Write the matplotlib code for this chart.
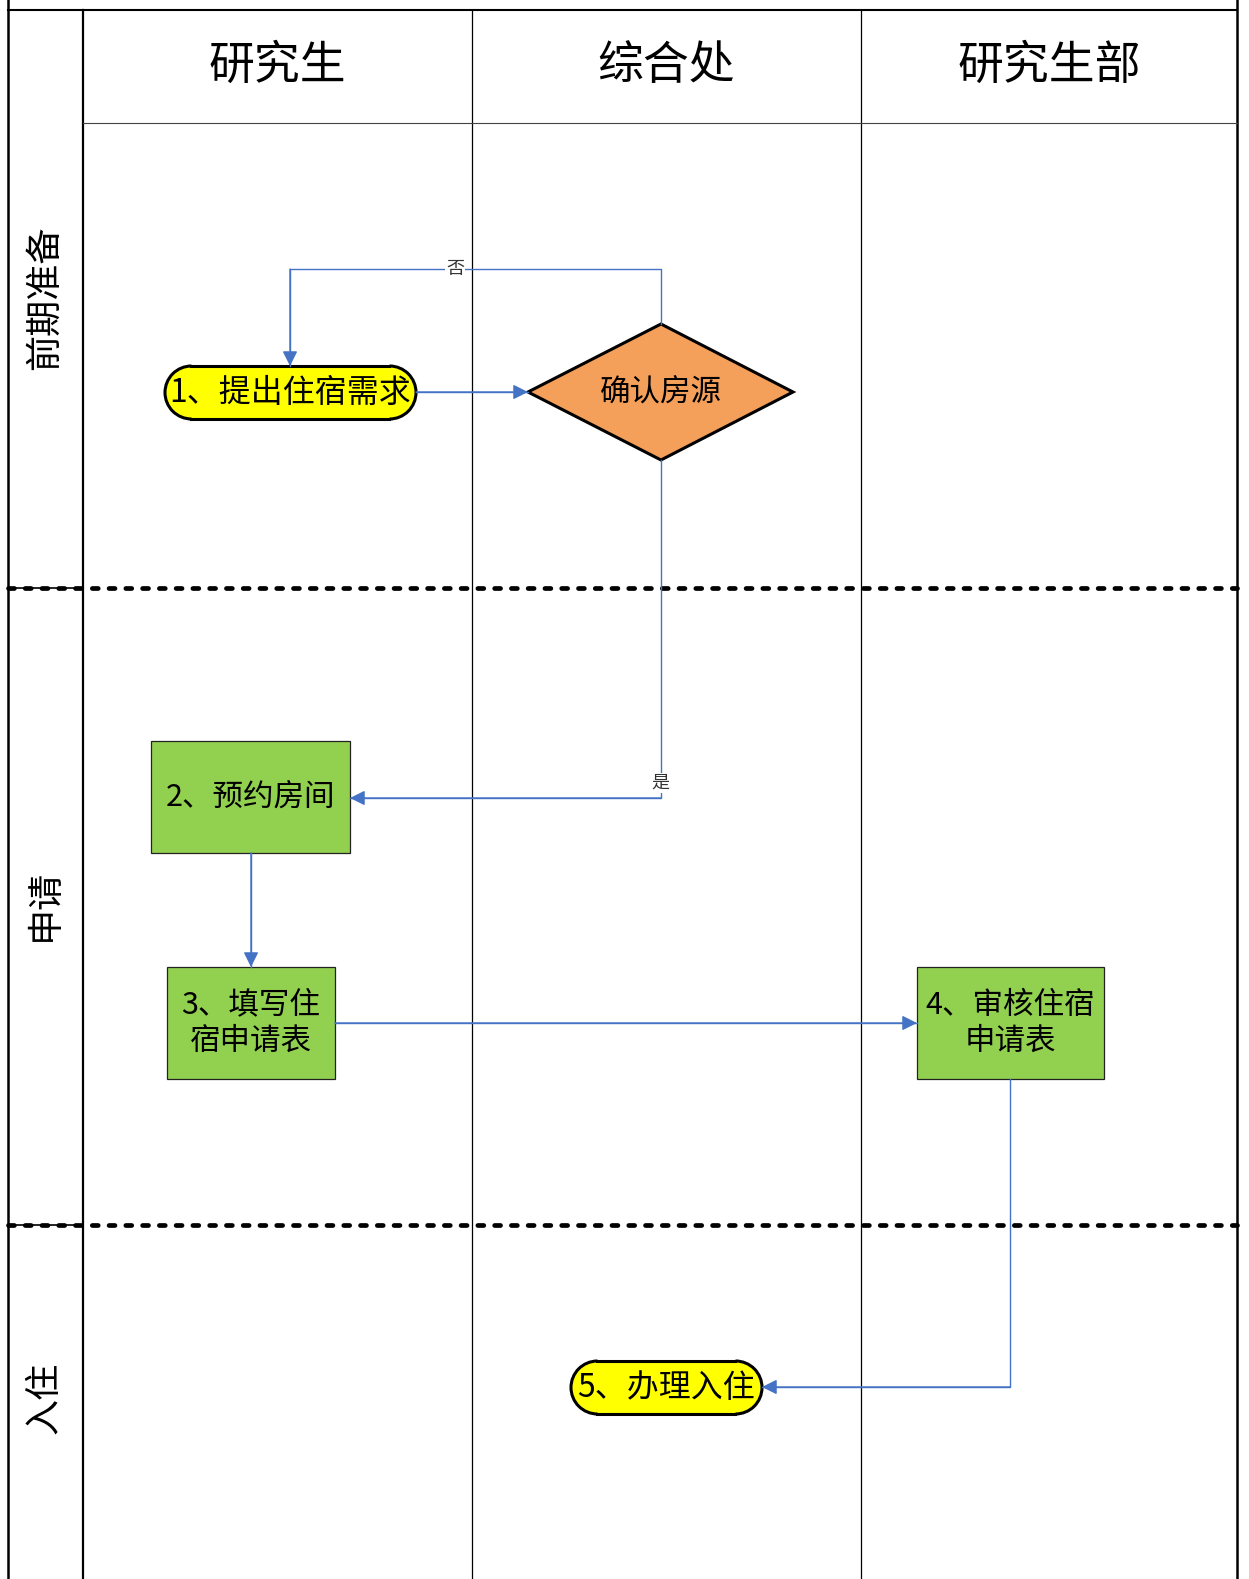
import matplotlib
matplotlib.use("Agg")
import matplotlib.pyplot as plt
from matplotlib.patches import Polygon, Rectangle, Ellipse, Arc

plt.rcParams['font.family'] = ['Noto Sans CJK SC', 'DejaVu Sans']

# swimlane content
lanes = ["研究生", "综合处", "研究生部"]
phases = ["前期准备", "申请", "入住"]
node_text = {
    "n1": "1、提出住宿需求",
    "d": "确认房源",
    "n2": "2、预约房间",
    "n3": "3、填写住\n宿申请表",
    "n4": "4、审核住宿\n申请表",
    "n5": "5、办理入住",
}
edge_labels = {"no": "否", "yes": "是"}

# layout (pixel coords, y down)
W, H = 1249, 1579
col_x = [83, 472, 861, 1237]
left_x = 8
top_y = 10
head_y = 123
phase_y = [head_y, 588, 1225, H]

blue = "#4472C4"
yellow = "#FFFF00"
orange = "#F4A05A"
green = "#92D050"

fig = plt.figure(figsize=(W / 100, H / 100), dpi=100)
ax = fig.add_axes([0, 0, 1, 1])
ax.set_xlim(0, W)
ax.set_ylim(H, 0)
ax.axis("off")

# grid lines
ax.plot([left_x, left_x], [0, H], color="black", lw=1.8)
ax.plot([col_x[-1], col_x[-1]], [0, H], color="black", lw=1.8)
ax.plot([left_x, col_x[-1]], [top_y, top_y], color="black", lw=1.5)
ax.plot([col_x[0], col_x[0]], [top_y, H], color="black", lw=1.6)
for x in col_x[1:-1]:
    ax.plot([x, x], [top_y, H], color="black", lw=0.9)
ax.plot([col_x[0], col_x[-1]], [head_y, head_y], color="#444444", lw=0.8)
for y in phase_y[1:3]:
    ax.plot([left_x, col_x[0]], [y, y], color="black", lw=1.2)
    ax.plot([left_x, col_x[-1]], [y, y], color="black", lw=3.4,
            ls=(0, (1.25, 2.3)), dash_capstyle="round")

# headers
for i, name in enumerate(lanes):
    cx = (col_x[i] + col_x[i + 1]) / 2
    ax.text(cx, 66, name, ha="center", va="center", fontsize=33)

phase_cy = [298, 905, 1398]
for name, cy in zip(phases, phase_cy):
    ax.text(45, cy, name, ha="center", va="center", fontsize=26, rotation=90)


def terminator(x0, y0, x1, y1, text):
    h = y1 - y0
    cy = (y0 + y1) / 2
    ax.add_patch(Rectangle((x0 + h / 2, y0), x1 - x0 - h, h, fc=yellow, ec="none"))
    ax.add_patch(Ellipse((x0 + h / 2, cy), h, h, fc=yellow, ec="none"))
    ax.add_patch(Ellipse((x1 - h / 2, cy), h, h, fc=yellow, ec="none"))
    ax.add_patch(Arc((x0 + h / 2, cy), h, h, theta1=90, theta2=270,
                     color="black", lw=2.2))
    ax.add_patch(Arc((x1 - h / 2, cy), h, h, theta1=-90, theta2=90,
                     color="black", lw=2.2))
    ax.plot([x0 + h / 2, x1 - h / 2], [y0, y0], color="black", lw=2.2)
    ax.plot([x0 + h / 2, x1 - h / 2], [y1, y1], color="black", lw=2.2)
    ax.text((x0 + x1) / 2, cy, text, ha="center", va="center",
            fontsize=23, fontweight="medium")


def box(x0, y0, x1, y1, text):
    ax.add_patch(Rectangle((x0, y0), x1 - x0, y1 - y0, fc=green, ec="#222222", lw=0.9))
    ax.text((x0 + x1) / 2, (y0 + y1) / 2, text, ha="center", va="center",
            fontsize=22, linespacing=1.2, fontweight="medium")


terminator(165, 366, 416, 419, node_text["n1"])
ax.add_patch(Polygon([(528, 392), (661, 324), (793, 392), (661, 460)],
                     closed=True, fc=orange, ec="black", lw=2.2))
ax.text(661, 392, node_text["d"], ha="center", va="center", fontsize=22,
        fontweight="medium")
box(151, 741, 350, 853, node_text["n2"])
box(167, 967, 335, 1079, node_text["n3"])
box(917, 967, 1104, 1079, node_text["n4"])
terminator(571, 1361, 762, 1414, node_text["n5"])


def connector(pts):
    xs = [p[0] for p in pts]
    ys = [p[1] for p in pts]
    ax.plot(xs, ys, color=blue, lw=1.0)
    ax.annotate("", xy=pts[-1], xytext=pts[-2],
                arrowprops=dict(arrowstyle="-|>,head_length=0.9,head_width=0.45",
                                color=blue, lw=1.0, shrinkA=0, shrinkB=0))


connector([(661, 324), (661, 269), (290, 269), (290, 366)])
connector([(416, 392), (528, 392)])
connector([(661, 460), (661, 798), (350, 798)])
connector([(251, 853), (251, 967)])
connector([(335, 1023), (917, 1023)])
connector([(1010, 1079), (1010, 1387), (762, 1387)])

ax.text(455, 269, edge_labels["no"], ha="center", va="center", fontsize=13,
        color="#333333", bbox=dict(fc="white", ec="none", pad=1))
ax.text(660, 783, edge_labels["yes"], ha="center", va="center", fontsize=13,
        color="#333333", bbox=dict(fc="white", ec="none", pad=1))

fig.savefig("out.png", dpi=100)
